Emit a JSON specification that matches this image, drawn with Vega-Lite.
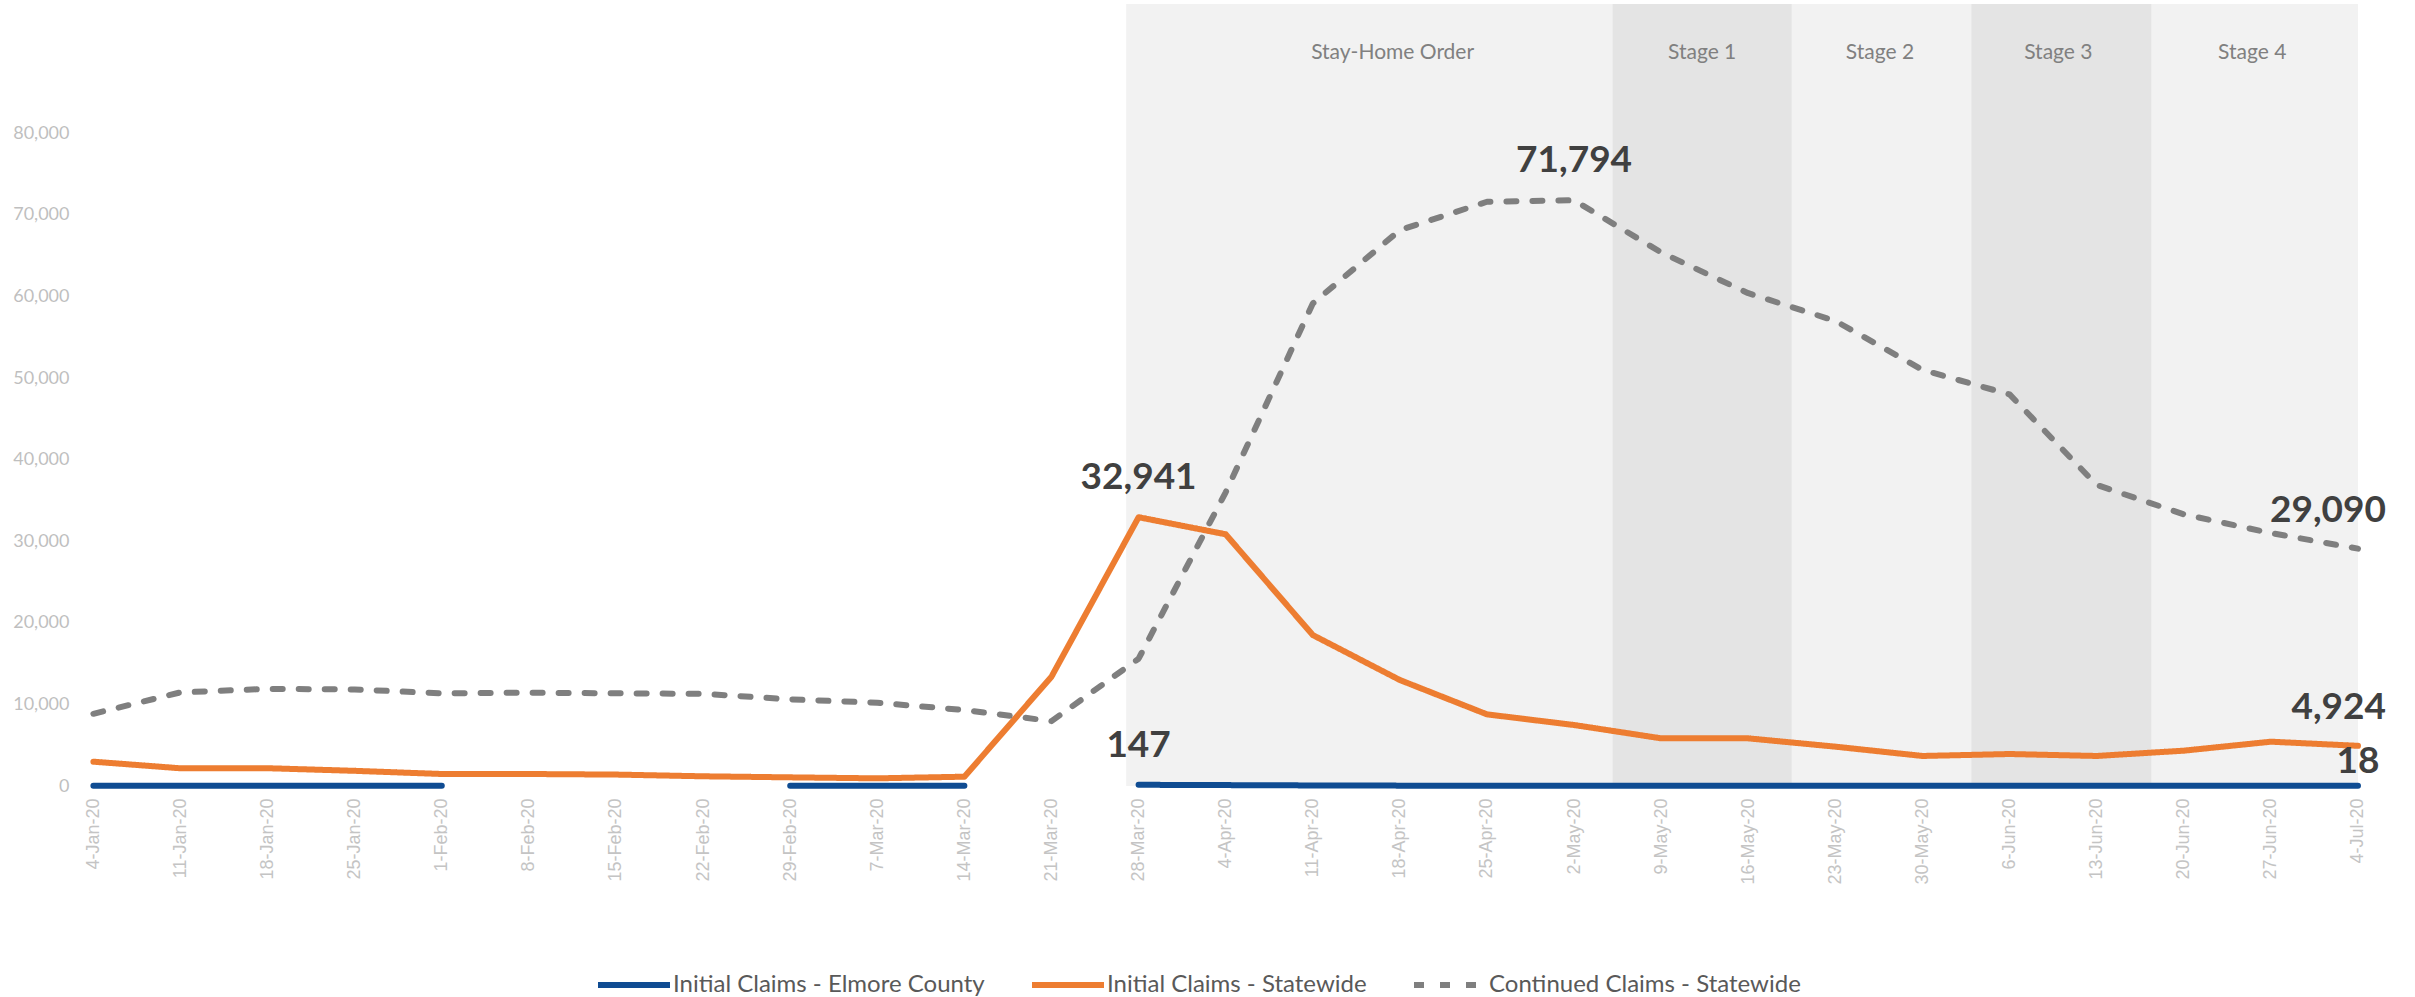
{
  "$schema": "https://vega.github.io/schema/vega-lite/v6.json",
  "width": 2276,
  "height": 782,
  "autosize": {"type": "none"},
  "padding": {"left": 87, "top": 4, "right": 52, "bottom": 211},
  "background": "white",
  "config": {"view": {"stroke": null}, "font": "Lato"},
  "datasets": {
    "bands": [
      {"band": "Stay-Home Order", "start": "2020-03-27T00:00:00Z", "end": "2020-05-05T02:00:00Z", "mid": "2020-04-17T10:00:00Z", "tone": "light"},
      {"band": "Stage 1", "start": "2020-05-05T02:00:00Z", "end": "2020-05-19T12:00:00Z", "mid": "2020-05-12T07:00:00Z", "tone": "dark"},
      {"band": "Stage 2", "start": "2020-05-19T12:00:00Z", "end": "2020-06-02T22:00:00Z", "mid": "2020-05-26T14:00:00Z", "tone": "light"},
      {"band": "Stage 3", "start": "2020-06-02T22:00:00Z", "end": "2020-06-17T10:00:00Z", "mid": "2020-06-09T22:00:00Z", "tone": "dark"},
      {"band": "Stage 4", "start": "2020-06-17T10:00:00Z", "end": "2020-07-04T00:00:00Z", "mid": "2020-06-25T12:00:00Z", "tone": "light"}
    ],
    "grid": [
      {"v": 0}, {"v": 10000}, {"v": 20000}, {"v": 30000}, {"v": 40000},
      {"v": 50000}, {"v": 60000}, {"v": 70000}, {"v": 80000}
    ],
    "series": [
      {"date": "2020-01-04T00:00:00Z", "series": "Initial Claims - Elmore County", "value": 30},
      {"date": "2020-01-11T00:00:00Z", "series": "Initial Claims - Elmore County", "value": 28},
      {"date": "2020-01-18T00:00:00Z", "series": "Initial Claims - Elmore County", "value": 30},
      {"date": "2020-01-25T00:00:00Z", "series": "Initial Claims - Elmore County", "value": 25},
      {"date": "2020-02-01T00:00:00Z", "series": "Initial Claims - Elmore County", "value": 22},
      {"date": "2020-02-08T00:00:00Z", "series": "Initial Claims - Elmore County", "value": null},
      {"date": "2020-02-15T00:00:00Z", "series": "Initial Claims - Elmore County", "value": null},
      {"date": "2020-02-22T00:00:00Z", "series": "Initial Claims - Elmore County", "value": null},
      {"date": "2020-02-29T00:00:00Z", "series": "Initial Claims - Elmore County", "value": 20},
      {"date": "2020-03-07T00:00:00Z", "series": "Initial Claims - Elmore County", "value": 18},
      {"date": "2020-03-14T00:00:00Z", "series": "Initial Claims - Elmore County", "value": 22},
      {"date": "2020-03-21T00:00:00Z", "series": "Initial Claims - Elmore County", "value": null},
      {"date": "2020-03-28T00:00:00Z", "series": "Initial Claims - Elmore County", "value": 147, "label": "147"},
      {"date": "2020-04-04T00:00:00Z", "series": "Initial Claims - Elmore County", "value": 110},
      {"date": "2020-04-11T00:00:00Z", "series": "Initial Claims - Elmore County", "value": 70},
      {"date": "2020-04-18T00:00:00Z", "series": "Initial Claims - Elmore County", "value": 45},
      {"date": "2020-04-25T00:00:00Z", "series": "Initial Claims - Elmore County", "value": 35},
      {"date": "2020-05-02T00:00:00Z", "series": "Initial Claims - Elmore County", "value": 30},
      {"date": "2020-05-09T00:00:00Z", "series": "Initial Claims - Elmore County", "value": 25},
      {"date": "2020-05-16T00:00:00Z", "series": "Initial Claims - Elmore County", "value": 24},
      {"date": "2020-05-23T00:00:00Z", "series": "Initial Claims - Elmore County", "value": 22},
      {"date": "2020-05-30T00:00:00Z", "series": "Initial Claims - Elmore County", "value": 20},
      {"date": "2020-06-06T00:00:00Z", "series": "Initial Claims - Elmore County", "value": 19},
      {"date": "2020-06-13T00:00:00Z", "series": "Initial Claims - Elmore County", "value": 20},
      {"date": "2020-06-20T00:00:00Z", "series": "Initial Claims - Elmore County", "value": 21},
      {"date": "2020-06-27T00:00:00Z", "series": "Initial Claims - Elmore County", "value": 22},
      {"date": "2020-07-04T00:00:00Z", "series": "Initial Claims - Elmore County", "value": 18, "label": "18"},

      {"date": "2020-01-04T00:00:00Z", "series": "Initial Claims - Statewide", "value": 2980},
      {"date": "2020-01-11T00:00:00Z", "series": "Initial Claims - Statewide", "value": 2170},
      {"date": "2020-01-18T00:00:00Z", "series": "Initial Claims - Statewide", "value": 2180},
      {"date": "2020-01-25T00:00:00Z", "series": "Initial Claims - Statewide", "value": 1860},
      {"date": "2020-02-01T00:00:00Z", "series": "Initial Claims - Statewide", "value": 1470},
      {"date": "2020-02-08T00:00:00Z", "series": "Initial Claims - Statewide", "value": 1470},
      {"date": "2020-02-15T00:00:00Z", "series": "Initial Claims - Statewide", "value": 1400},
      {"date": "2020-02-22T00:00:00Z", "series": "Initial Claims - Statewide", "value": 1190},
      {"date": "2020-02-29T00:00:00Z", "series": "Initial Claims - Statewide", "value": 1060},
      {"date": "2020-03-07T00:00:00Z", "series": "Initial Claims - Statewide", "value": 940},
      {"date": "2020-03-14T00:00:00Z", "series": "Initial Claims - Statewide", "value": 1140},
      {"date": "2020-03-21T00:00:00Z", "series": "Initial Claims - Statewide", "value": 13400},
      {"date": "2020-03-28T00:00:00Z", "series": "Initial Claims - Statewide", "value": 32941, "label": "32,941"},
      {"date": "2020-04-04T00:00:00Z", "series": "Initial Claims - Statewide", "value": 30850},
      {"date": "2020-04-11T00:00:00Z", "series": "Initial Claims - Statewide", "value": 18500},
      {"date": "2020-04-18T00:00:00Z", "series": "Initial Claims - Statewide", "value": 12990},
      {"date": "2020-04-25T00:00:00Z", "series": "Initial Claims - Statewide", "value": 8780},
      {"date": "2020-05-02T00:00:00Z", "series": "Initial Claims - Statewide", "value": 7475},
      {"date": "2020-05-09T00:00:00Z", "series": "Initial Claims - Statewide", "value": 5840},
      {"date": "2020-05-16T00:00:00Z", "series": "Initial Claims - Statewide", "value": 5840},
      {"date": "2020-05-23T00:00:00Z", "series": "Initial Claims - Statewide", "value": 4820},
      {"date": "2020-05-30T00:00:00Z", "series": "Initial Claims - Statewide", "value": 3680},
      {"date": "2020-06-06T00:00:00Z", "series": "Initial Claims - Statewide", "value": 3920},
      {"date": "2020-06-13T00:00:00Z", "series": "Initial Claims - Statewide", "value": 3680},
      {"date": "2020-06-20T00:00:00Z", "series": "Initial Claims - Statewide", "value": 4330},
      {"date": "2020-06-27T00:00:00Z", "series": "Initial Claims - Statewide", "value": 5430},
      {"date": "2020-07-04T00:00:00Z", "series": "Initial Claims - Statewide", "value": 4924, "label": "4,924"},

      {"date": "2020-01-04T00:00:00Z", "series": "Continued Claims - Statewide", "value": 8850},
      {"date": "2020-01-11T00:00:00Z", "series": "Continued Claims - Statewide", "value": 11480},
      {"date": "2020-01-18T00:00:00Z", "series": "Continued Claims - Statewide", "value": 11900},
      {"date": "2020-01-25T00:00:00Z", "series": "Continued Claims - Statewide", "value": 11840},
      {"date": "2020-02-01T00:00:00Z", "series": "Continued Claims - Statewide", "value": 11360},
      {"date": "2020-02-08T00:00:00Z", "series": "Continued Claims - Statewide", "value": 11440},
      {"date": "2020-02-15T00:00:00Z", "series": "Continued Claims - Statewide", "value": 11360},
      {"date": "2020-02-22T00:00:00Z", "series": "Continued Claims - Statewide", "value": 11300},
      {"date": "2020-02-29T00:00:00Z", "series": "Continued Claims - Statewide", "value": 10620},
      {"date": "2020-03-07T00:00:00Z", "series": "Continued Claims - Statewide", "value": 10210},
      {"date": "2020-03-14T00:00:00Z", "series": "Continued Claims - Statewide", "value": 9310},
      {"date": "2020-03-21T00:00:00Z", "series": "Continued Claims - Statewide", "value": 7950},
      {"date": "2020-03-28T00:00:00Z", "series": "Continued Claims - Statewide", "value": 15600},
      {"date": "2020-04-04T00:00:00Z", "series": "Continued Claims - Statewide", "value": 36000},
      {"date": "2020-04-11T00:00:00Z", "series": "Continued Claims - Statewide", "value": 59150},
      {"date": "2020-04-18T00:00:00Z", "series": "Continued Claims - Statewide", "value": 68140},
      {"date": "2020-04-25T00:00:00Z", "series": "Continued Claims - Statewide", "value": 71610},
      {"date": "2020-05-02T00:00:00Z", "series": "Continued Claims - Statewide", "value": 71794, "label": "71,794"},
      {"date": "2020-05-09T00:00:00Z", "series": "Continued Claims - Statewide", "value": 65400},
      {"date": "2020-05-16T00:00:00Z", "series": "Continued Claims - Statewide", "value": 60400},
      {"date": "2020-05-23T00:00:00Z", "series": "Continued Claims - Statewide", "value": 57000},
      {"date": "2020-05-30T00:00:00Z", "series": "Continued Claims - Statewide", "value": 51000},
      {"date": "2020-06-06T00:00:00Z", "series": "Continued Claims - Statewide", "value": 48000},
      {"date": "2020-06-13T00:00:00Z", "series": "Continued Claims - Statewide", "value": 36900},
      {"date": "2020-06-20T00:00:00Z", "series": "Continued Claims - Statewide", "value": 33300},
      {"date": "2020-06-27T00:00:00Z", "series": "Continued Claims - Statewide", "value": 31000},
      {"date": "2020-07-04T00:00:00Z", "series": "Continued Claims - Statewide", "value": 29090, "label": "29,090"}
    ]
  },
  "encoding": {
    "x": {
      "field": "date",
      "type": "temporal",
      "scale": {
        "type": "utc",
        "domain": [
          {"year": 2020, "month": 1, "date": 3, "hours": 11, "minutes": 40, "utc": true},
          {"year": 2020, "month": 7, "date": 4, "hours": 9, "minutes": 40, "utc": true}
        ]
      },
      "axis": {
        "title": null,
        "values": [
          {"year": 2020, "month": 1, "date": 4, "utc": true},
          {"year": 2020, "month": 1, "date": 11, "utc": true},
          {"year": 2020, "month": 1, "date": 18, "utc": true},
          {"year": 2020, "month": 1, "date": 25, "utc": true},
          {"year": 2020, "month": 2, "date": 1, "utc": true},
          {"year": 2020, "month": 2, "date": 8, "utc": true},
          {"year": 2020, "month": 2, "date": 15, "utc": true},
          {"year": 2020, "month": 2, "date": 22, "utc": true},
          {"year": 2020, "month": 2, "date": 29, "utc": true},
          {"year": 2020, "month": 3, "date": 7, "utc": true},
          {"year": 2020, "month": 3, "date": 14, "utc": true},
          {"year": 2020, "month": 3, "date": 21, "utc": true},
          {"year": 2020, "month": 3, "date": 28, "utc": true},
          {"year": 2020, "month": 4, "date": 4, "utc": true},
          {"year": 2020, "month": 4, "date": 11, "utc": true},
          {"year": 2020, "month": 4, "date": 18, "utc": true},
          {"year": 2020, "month": 4, "date": 25, "utc": true},
          {"year": 2020, "month": 5, "date": 2, "utc": true},
          {"year": 2020, "month": 5, "date": 9, "utc": true},
          {"year": 2020, "month": 5, "date": 16, "utc": true},
          {"year": 2020, "month": 5, "date": 23, "utc": true},
          {"year": 2020, "month": 5, "date": 30, "utc": true},
          {"year": 2020, "month": 6, "date": 6, "utc": true},
          {"year": 2020, "month": 6, "date": 13, "utc": true},
          {"year": 2020, "month": 6, "date": 20, "utc": true},
          {"year": 2020, "month": 6, "date": 27, "utc": true},
          {"year": 2020, "month": 7, "date": 4, "utc": true}
        ],
        "format": "%-d-%b-%y",
        "labelAngle": -90,
        "labelFont": "Liberation Sans",
        "labelFontSize": 18,
        "labelColor": "#C4C4C4",
        "labelPadding": 12,
        "labelOverlap": false,
        "labelFlush": false,
        "labelBound": false,
        "ticks": false,
        "domain": false,
        "grid": false
      }
    }
  },
  "layer": [
    {
      "data": {"name": "bands"},
      "mark": {"type": "rect"},
      "encoding": {
        "x": {"field": "start", "type": "temporal"},
        "x2": {"field": "end"},
        "fill": {
          "field": "tone",
          "type": "nominal",
          "scale": {"domain": ["light", "dark"], "range": ["#F2F2F2", "#E4E4E4"]},
          "legend": null
        }
      }
    },
    {
      "data": {"name": "bands"},
      "mark": {"type": "text", "font": "Lato", "fontSize": 21, "color": "#808080", "align": "center", "baseline": "middle"},
      "encoding": {
        "x": {"field": "mid", "type": "temporal"},
        "y": {"datum": 89840, "type": "quantitative"},
        "text": {"field": "band"}
      }
    },
    {
      "data": {"name": "grid"},
      "mark": {"type": "rule", "color": "#D9D9D9", "strokeWidth": 2},
      "encoding": {
        "y": {"field": "v", "type": "quantitative"}
      }
    },
    {
      "data": {"name": "series"},
      "mark": {"type": "line", "strokeWidth": 6, "strokeCap": "round", "strokeJoin": "round", "invalid": "break-paths-show-domains"},
      "encoding": {
        "y": {
          "field": "value",
          "type": "quantitative",
          "scale": {"domain": [0, 95850], "nice": false},
          "axis": {
            "title": null,
            "values": [0, 10000, 20000, 30000, 40000, 50000, 60000, 70000, 80000],
            "format": ",d",
            "labelFont": "Lato",
            "labelFontSize": 18,
            "labelColor": "#BFBFBF",
            "labelPadding": 18,
            "ticks": false,
            "domain": false,
            "grid": false
          }
        },
        "color": {
          "field": "series",
          "type": "nominal",
          "scale": {
            "domain": ["Initial Claims - Elmore County", "Initial Claims - Statewide", "Continued Claims - Statewide"],
            "range": ["#0F4C92", "#ED7D31", "#7F7F7F"]
          },
          "legend": {
            "orient": "none", "legendX": 508, "legendY": 942, "direction": "horizontal", "title": null,
            "symbolType": "stroke", "symbolSize": 5184, "symbolStrokeWidth": 6,
            "labelFont": "Lato", "labelFontSize": 24, "labelColor": "#595959", "labelOffset": 0,
            "columnPadding": 35, "padding": 0, "labelLimit": 0
          }
        },
        "strokeDash": {
          "field": "series",
          "type": "nominal",
          "scale": {
            "domain": ["Initial Claims - Elmore County", "Initial Claims - Statewide", "Continued Claims - Statewide"],
            "range": [[1, 0], [1, 0], [10, 16]]
          },
          "legend": {
            "orient": "none", "legendX": 508, "legendY": 942, "direction": "horizontal", "title": null,
            "symbolType": "stroke", "symbolSize": 5184, "symbolStrokeWidth": 6,
            "labelFont": "Lato", "labelFontSize": 24, "labelColor": "#595959", "labelOffset": 0,
            "columnPadding": 35, "padding": 0, "labelLimit": 0
          }
        }
      }
    },
    {
      "data": {"name": "series"},
      "transform": [{"filter": "datum.label == '32,941' || datum.label == '71,794' || datum.label == '147'"}],
      "mark": {"type": "text", "font": "Lato", "fontSize": 37, "fontWeight": "bold", "color": "#404040", "align": "center", "baseline": "middle", "dy": -39},
      "encoding": {
        "y": {"field": "value", "type": "quantitative"},
        "text": {"field": "label"}
      }
    },
    {
      "data": {"name": "series"},
      "transform": [{"filter": "datum.label == '29,090' || datum.label == '4,924'"}],
      "mark": {"type": "text", "font": "Lato", "fontSize": 37, "fontWeight": "bold", "color": "#404040", "align": "right", "baseline": "middle", "dy": -38, "dx": 28},
      "encoding": {
        "y": {"field": "value", "type": "quantitative"},
        "text": {"field": "label"}
      }
    },
    {
      "data": {"name": "series"},
      "transform": [{"filter": "datum.label == '18'"}],
      "mark": {"type": "text", "font": "Lato", "fontSize": 37, "fontWeight": "bold", "color": "#404040", "align": "center", "baseline": "middle", "dy": -24},
      "encoding": {
        "y": {"field": "value", "type": "quantitative"},
        "text": {"field": "label"}
      }
    }
  ]
}
